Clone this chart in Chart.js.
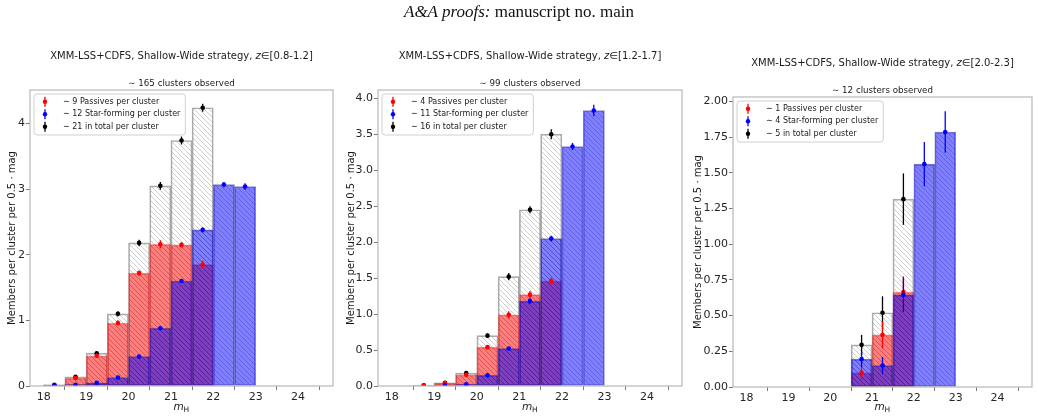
<!DOCTYPE html>
<html><head><meta charset="utf-8">
<script src="https://cdn.jsdelivr.net/npm/chart.js@4.4.1/dist/chart.umd.min.js"></script>
<style>
html,body{margin:0;padding:0;background:#fff;width:1038px;height:419px;overflow:hidden;}
#hdr{position:absolute;left:0;top:2px;width:1038px;text-align:center;font-family:"Liberation Serif","DejaVu Serif",serif;font-size:17px;color:#111;z-index:2;}
canvas{position:absolute;top:0;}
</style></head><body>
<div id="hdr"><i>A&amp;A proofs:</i> manuscript no. main</div>
<canvas id="c1" width="345" height="419" style="left:0px"></canvas>
<canvas id="c2" width="345" height="419" style="left:345px"></canvas>
<canvas id="c3" width="348" height="419" style="left:690px"></canvas>
<script>
// ---------------- data ----------------
const binCenters = [18.25, 18.75, 19.25, 19.75, 20.25, 20.75, 21.25, 21.75, 22.25, 22.75];
const xTickValues = [18, 19, 20, 21, 22, 23, 24];
const xMin = 17.675, xMax = 24.825;

const zRanges = ['[0.8-1.2]', '[1.2-1.7]', '[2.0-2.3]'];
const clustersObserved = [165, 99, 12];
const passivesPerCluster = [9, 4, 1];
const starFormingPerCluster = [12, 11, 4];
const totalPerCluster = [21, 16, 5];

// Panel 1: z in [0.8-1.2]
const p1Total          = [0.02, 0.14, 0.50, 1.10, 2.18, 3.05, 3.74, 4.24, null, null];
const p1TotalErr       = [0.01, 0.02, 0.03, 0.04, 0.05, 0.06, 0.06, 0.06, null, null];
const p1Passive        = [0.01, 0.12, 0.46, 0.96, 1.72, 2.16, 2.15, 1.85, null, null];
const p1PassiveErr     = [0.01, 0.02, 0.03, 0.04, 0.04, 0.06, 0.04, 0.06, null, null];
const p1StarForming    = [0.01, 0.02, 0.05, 0.13, 0.45, 0.88, 1.60, 2.38, 3.07, 3.04];
const p1StarFormingErr = [0.01, 0.01, 0.01, 0.02, 0.02, 0.03, 0.03, 0.04, 0.04, 0.05];
const p1YMax = 4.51;
const p1YTicks = [0, 1, 2, 3, 4];
const p1YLabels = ['0', '1', '2', '3', '4'];

// Panel 2: z in [1.2-1.7]
const p2Total          = [null, 0.01, 0.045, 0.18, 0.70, 1.52, 2.45, 3.50, null, null];
const p2TotalErr       = [null, 0.005, 0.01, 0.02, 0.03, 0.05, 0.05, 0.07, null, null];
const p2Passive        = [null, 0.01, 0.04, 0.155, 0.54, 0.99, 1.27, 1.46, null, null];
const p2PassiveErr     = [null, 0.005, 0.01, 0.02, 0.03, 0.05, 0.05, 0.05, null, null];
const p2StarForming    = [null, null, 0.01, 0.025, 0.15, 0.52, 1.18, 2.05, 3.33, 3.83];
const p2StarFormingErr = [null, null, 0.005, 0.01, 0.02, 0.02, 0.04, 0.04, 0.05, 0.08];
const p2YMax = 4.115;
const p2YTicks = [0, 0.5, 1, 1.5, 2, 2.5, 3, 3.5, 4];
const p2YLabels = ['0.0', '0.5', '1.0', '1.5', '2.0', '2.5', '3.0', '3.5', '4.0'];

// Panel 3: z in [2.0-2.3]
const p3Total          = [null, null, null, null, null, 0.295, 0.52, 1.315, null, null];
const p3TotalErr       = [null, null, null, null, null, 0.07, 0.115, 0.18, null, null];
const p3Passive        = [null, null, null, null, null, 0.10, 0.365, 0.665, null, null];
const p3PassiveErr     = [null, null, null, null, null, 0.05, 0.095, 0.11, null, null];
const p3StarForming    = [null, null, null, null, null, 0.195, 0.15, 0.645, 1.56, 1.785];
const p3StarFormingErr = [null, null, null, null, null, 0.055, 0.06, 0.12, 0.155, 0.145];
const p3YMax = 2.03;
const p3YTicks = [0, 0.25, 0.5, 0.75, 1, 1.25, 1.5, 1.75, 2];
const p3YLabels = ['0.00', '0.25', '0.50', '0.75', '1.00', '1.25', '1.50', '1.75', '2.00'];

const yAxisTitle = 'Members per cluster per 0.5 \u00b7 mag';

// ---------------- styling helpers ----------------
Chart.defaults.font.family = '"DejaVu Sans", sans-serif';
Chart.defaults.color = '#262626';

function hatch(fill, line, size, lw) {
  const c = document.createElement('canvas');
  c.width = size; c.height = size;
  const x = c.getContext('2d');
  if (fill) { x.fillStyle = fill; x.fillRect(0, 0, size, size); }
  x.strokeStyle = line; x.lineWidth = lw;
  x.beginPath();
  x.moveTo(-1, -1); x.lineTo(size + 1, size + 1);
  x.moveTo(size - 1, -1); x.lineTo(size + 1, 1);
  x.moveTo(-1, size - 1); x.lineTo(1, size + 1);
  x.stroke();
  return x.createPattern(c, 'repeat');
}
const totalPattern = hatch(null, 'rgba(150,150,150,0.6)', 5, 0.8);
const redPattern = hatch('rgba(255,0,0,0.5)', 'rgba(140,0,0,0.2)', 5, 0.8);
const bluePattern = hatch('rgba(0,0,255,0.5)', 'rgba(0,0,110,0.28)', 5, 0.8);

function barData(vals) {
  return binCenters.map((x, i) => ({x: x, y: vals[i]})).filter(d => d.y !== null);
}
function pointData(vals, errs) {
  return binCenters.map((x, i) => ({x: x, y: vals[i], e: errs[i]})).filter(d => d.y !== null);
}

const errPlugin = {
  id: 'errbars',
  beforeDatasetDraw(chart, args) {
    const ds = chart.data.datasets[args.index];
    if (!ds.errColor) return;
    const xs = chart.scales.x, ys = chart.scales.y, ctx = chart.ctx;
    ctx.save();
    ctx.strokeStyle = ds.errColor; ctx.lineWidth = 1.3;
    ds.data.forEach(d => {
      const px = xs.getPixelForValue(d.x);
      ctx.beginPath();
      ctx.moveTo(px, ys.getPixelForValue(d.y - d.e));
      ctx.lineTo(px, ys.getPixelForValue(d.y + d.e));
      ctx.stroke();
    });
    ctx.restore();
  }
};

function drawRich(ctx, parts, cx, cy) {
  let total = 0;
  parts.forEach(p => { ctx.font = p.f; p.w = ctx.measureText(p.t).width; total += p.w; });
  let x = cx - total / 2;
  ctx.textBaseline = 'middle'; ctx.textAlign = 'left';
  parts.forEach(p => { ctx.font = p.f; ctx.fillText(p.t, x, cy); x += p.w; });
}

const decorPlugin = {
  id: 'decor',
  afterDatasetsDraw(chart, args, opts) {
    const ctx = chart.ctx, a = chart.chartArea;
    const cx = (a.left + a.right) / 2;
    ctx.save();
    // frame
    ctx.strokeStyle = '#b8b8b8'; ctx.lineWidth = 1.2;
    ctx.strokeRect(a.left, a.top, a.right - a.left, a.bottom - a.top);
    ctx.fillStyle = '#1a1a1a';
    // title
    const fam = '"DejaVu Sans", sans-serif';
    drawRich(ctx, [
      {t: 'XMM-LSS+CDFS, Shallow-Wide strategy, ', f: '10px ' + fam},
      {t: 'z', f: 'italic 10px ' + fam},
      {t: '\u2208' + opts.zRange, f: '10px ' + fam}
    ], cx, a.top - 34);
    drawRich(ctx, [{t: '\u223c ' + opts.nClusters + ' clusters observed', f: '8.7px ' + fam}], cx, a.top - 6);
    // x label
    ctx.font = 'italic 10.5px ' + fam;
    const mw = ctx.measureText('m').width;
    ctx.textAlign = 'left'; ctx.textBaseline = 'middle';
    ctx.fillText('m', cx - mw / 2 - 3, 407);
    ctx.font = '7.5px ' + fam;
    ctx.fillText('H', cx + mw / 2 - 3, 410);
    // y label
    ctx.save();
    ctx.translate(opts.yLabelX, (a.top + a.bottom) / 2);
    ctx.rotate(-Math.PI / 2);
    ctx.font = '10px ' + fam; ctx.textAlign = 'center'; ctx.textBaseline = 'middle';
    ctx.fillText(yAxisTitle, 0, 0);
    ctx.restore();
    // legend
    const items = [
      {t: '\u223c ' + opts.nPass + ' Passives per cluster', c: '#ff0000'},
      {t: '\u223c ' + opts.nSF + ' Star-forming per cluster', c: '#0000ff'},
      {t: '\u223c ' + opts.nTot + ' in total per cluster', c: '#000000'}
    ];
    ctx.font = '8px ' + fam;
    const tw = Math.max(...items.map(it => ctx.measureText(it.t).width));
    const x0 = a.left + 4, y0 = a.top + 4, w = 29 + tw + 5, h = 41;
    ctx.beginPath();
    if (ctx.roundRect) ctx.roundRect(x0, y0, w, h, 3); else ctx.rect(x0, y0, w, h);
    ctx.fillStyle = 'rgba(255,255,255,0.8)'; ctx.fill();
    ctx.strokeStyle = '#d0d0d0'; ctx.lineWidth = 1; ctx.stroke();
    items.forEach((it, i) => {
      const cy = y0 + 7.7 + i * 12.5, mx = x0 + 11;
      ctx.strokeStyle = it.c; ctx.lineWidth = 1.3;
      ctx.beginPath(); ctx.moveTo(mx, cy - 5); ctx.lineTo(mx, cy + 5); ctx.stroke();
      ctx.fillStyle = it.c; ctx.beginPath(); ctx.arc(mx, cy, 2.2, 0, Math.PI * 2); ctx.fill();
      ctx.fillStyle = '#1a1a1a'; ctx.textAlign = 'left'; ctx.textBaseline = 'middle';
      ctx.fillText(it.t, x0 + 29, cy);
    });
    ctx.restore();
  }
};

function makePanel(id, p) {
  const datasets = [
    {type: 'bar', data: barData(p.total), backgroundColor: totalPattern, borderColor: 'rgba(150,150,150,0.8)', borderWidth: 1, borderSkipped: false, order: 6, grouped: false, barPercentage: 1, categoryPercentage: 1},
    {type: 'bar', data: barData(p.pass), backgroundColor: redPattern, borderColor: 'rgba(220,60,60,0.5)', borderWidth: 1, borderSkipped: false, order: 5, grouped: false, barPercentage: 1, categoryPercentage: 1},
    {type: 'bar', data: barData(p.sf), backgroundColor: bluePattern, borderColor: 'rgba(30,30,160,0.55)', borderWidth: 1, borderSkipped: false, order: 4, grouped: false, barPercentage: 1, categoryPercentage: 1},
    {type: 'scatter', data: pointData(p.total, p.totalErr), errColor: '#000', pointRadius: 2.3, pointBackgroundColor: '#000', pointBorderWidth: 0, order: 3},
    {type: 'scatter', data: pointData(p.pass, p.passErr), errColor: '#ff0000', pointRadius: 2.3, pointBackgroundColor: '#ff0000', pointBorderWidth: 0, order: 2},
    {type: 'scatter', data: pointData(p.sf, p.sfErr), errColor: '#0000ff', pointRadius: 2.3, pointBackgroundColor: '#0000ff', pointBorderWidth: 0, order: 1}
  ];
  return new Chart(document.getElementById(id), {
    type: 'bar',
    data: {datasets: datasets},
    plugins: [errPlugin, decorPlugin],
    options: {
      responsive: false, animation: false, events: [],
      layout: {padding: {top: p.padTop, right: p.padRight, left: 0, bottom: 0}},
      plugins: {legend: {display: false}, tooltip: {enabled: false},
        decor: {zRange: p.zRange, nClusters: p.nClusters, nPass: p.nPass, nSF: p.nSF, nTot: p.nTot, yLabelX: p.yLabelX}},
      scales: {
        x: {type: 'linear', min: xMin, max: xMax, bounds: 'data', offset: false,
          afterBuildTicks: s => { s.ticks = xTickValues.map(v => ({value: v})); },
          afterFit: s => { s.height = p.xHeight; },
          ticks: {font: {size: 11}, padding: 1, maxRotation: 0, autoSkip: false, callback: v => String(v)},
          grid: {drawOnChartArea: false, drawTicks: true, tickLength: 4, color: '#777'},
          border: {display: false}},
        y: {type: 'linear', min: 0, max: p.yMax, bounds: 'data',
          afterBuildTicks: s => { s.ticks = p.yTicks.map(v => ({value: v})); },
          afterFit: s => { s.width = p.yWidth; },
          ticks: {font: {size: 11}, padding: 1, autoSkip: false, callback: (v, i) => p.yLabels[i]},
          grid: {drawOnChartArea: false, drawTicks: true, tickLength: 4, color: '#777'},
          border: {display: false}}
      }
    }
  });
}

makePanel('c1', {total: p1Total, totalErr: p1TotalErr, pass: p1Passive, passErr: p1PassiveErr, sf: p1StarForming, sfErr: p1StarFormingErr,
  yMax: p1YMax, yTicks: p1YTicks, yLabels: p1YLabels, zRange: zRanges[0], nClusters: clustersObserved[0],
  nPass: passivesPerCluster[0], nSF: starFormingPerCluster[0], nTot: totalPerCluster[0],
  padTop: 90, padRight: 12, yWidth: 30, xHeight: 33, yLabelX: 12});
makePanel('c2', {total: p2Total, totalErr: p2TotalErr, pass: p2Passive, passErr: p2PassiveErr, sf: p2StarForming, sfErr: p2StarFormingErr,
  yMax: p2YMax, yTicks: p2YTicks, yLabels: p2YLabels, zRange: zRanges[1], nClusters: clustersObserved[1],
  nPass: passivesPerCluster[1], nSF: starFormingPerCluster[1], nTot: totalPerCluster[1],
  padTop: 90, padRight: 8, yWidth: 33, xHeight: 33, yLabelX: 6});
makePanel('c3', {total: p3Total, totalErr: p3TotalErr, pass: p3Passive, passErr: p3PassiveErr, sf: p3StarForming, sfErr: p3StarFormingErr,
  yMax: p3YMax, yTicks: p3YTicks, yLabels: p3YLabels, zRange: zRanges[2], nClusters: clustersObserved[2],
  nPass: passivesPerCluster[2], nSF: starFormingPerCluster[2], nTot: totalPerCluster[2],
  padTop: 97, padRight: 6, yWidth: 43, xHeight: 32, yLabelX: 8});
</script>
</body></html>
